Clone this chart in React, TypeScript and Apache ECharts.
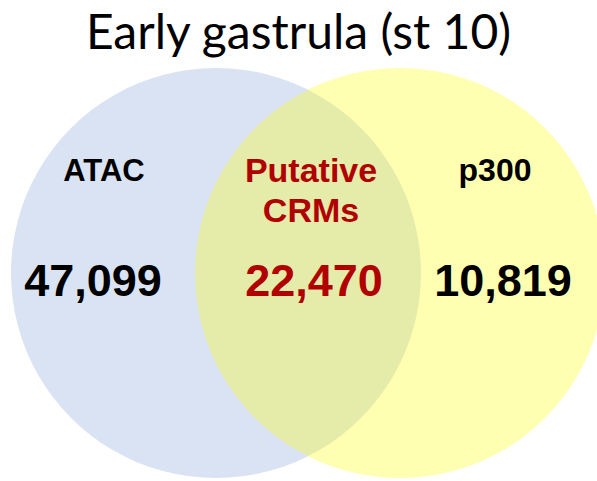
import React, { useEffect, useRef } from "react";
import * as echarts from "echarts";

// ---- data ----
const setNames = ["ATAC", "Putative\nCRMs", "p300"];
const regionCounts = [47099, 22470, 10819];
const titleText = "Early gastrula (st 10)";

// ---- layout (canvas units = pixels of a 597x481 frame) ----
const W = 597;
const H = 481;
const CIRCLES = [
  { cx: 216, cy: 273, r: 205, fill: "#DAE3F3", opacity: 1 },
  { cx: 400, cy: 273, r: 205, fill: "#FFFF00", opacity: 0.3 },
];
const NAME_POS = [
  { x: 104, y: 170, size: 31 },
  { x: 311, y: 190, size: 34 },
  { x: 495, y: 170, size: 32 },
];
const COUNT_POS = [
  { x: 93, y: 280, size: 45 },
  { x: 314, y: 280, size: 45 },
  { x: 503, y: 280, size: 45 },
];
const TEXT_COLORS = ["#000000", "#B00000", "#000000"];

const fmt = (n: number) => n.toLocaleString("en-US");

export default function App() {
  const ref = useRef<HTMLDivElement>(null);
  useEffect(() => {
    if (!ref.current) return;
    const chart = echarts.init(ref.current, undefined, { renderer: "svg" });
    const circleData = CIRCLES.map((c, i) => ({
      value: [c.cx, c.cy, c.r, i],
    }));
    const labelData = setNames.map((name, i) => ({
      value: [NAME_POS[i].x, NAME_POS[i].y, COUNT_POS[i].x, COUNT_POS[i].y, i],
    }));
    chart.setOption({
      animation: false,
      title: {
        text: titleText,
        left: "center",
        top: 1,
        textStyle: {
          fontFamily: "Lato",
          fontWeight: "normal",
          fontSize: 48,
          color: "#000",
        },
      },
      grid: { left: 0, right: 0, top: 0, bottom: 0 },
      xAxis: { type: "value", min: 0, max: W, show: false },
      yAxis: { type: "value", min: 0, max: H, inverse: true, show: false },
      series: [
        {
          type: "custom",
          coordinateSystem: "cartesian2d",
          silent: true,
          data: circleData,
          renderItem: (params: any, api: any) => {
            const c = api.coord([api.value(0), api.value(1)]);
            const r = api.size([api.value(2), 0])[0];
            const spec = CIRCLES[api.value(3)];
            return {
              type: "circle",
              shape: { cx: c[0], cy: c[1], r },
              style: { fill: spec.fill, opacity: spec.opacity },
            };
          },
        },
        {
          type: "custom",
          coordinateSystem: "cartesian2d",
          silent: true,
          data: labelData,
          renderItem: (params: any, api: any) => {
            const i = api.value(4);
            const p1 = api.coord([api.value(0), api.value(1)]);
            const p2 = api.coord([api.value(2), api.value(3)]);
            const color = TEXT_COLORS[i];
            return {
              type: "group",
              children: [
                {
                  type: "text",
                  x: p1[0],
                  y: p1[1],
                  style: {
                    text: setNames[i],
                    fill: color,
                    font: `bold ${NAME_POS[i].size}px "Liberation Sans", Arial, sans-serif`,
                    align: "center",
                    verticalAlign: "middle",
                    lineHeight: 40,
                  },
                },
                {
                  type: "text",
                  x: p2[0],
                  y: p2[1],
                  style: {
                    text: fmt(regionCounts[i]),
                    fill: color,
                    font: `bold ${COUNT_POS[i].size}px "Liberation Sans", Arial, sans-serif`,
                    align: "center",
                    verticalAlign: "middle",
                  },
                },
              ],
            };
          },
        },
      ],
    });
    return () => chart.dispose();
  }, []);
  return (
    <div
      ref={ref}
      style={{ position: "fixed", left: 0, top: 0, width: W, height: H, background: "#fff" }}
    />
  );
}
